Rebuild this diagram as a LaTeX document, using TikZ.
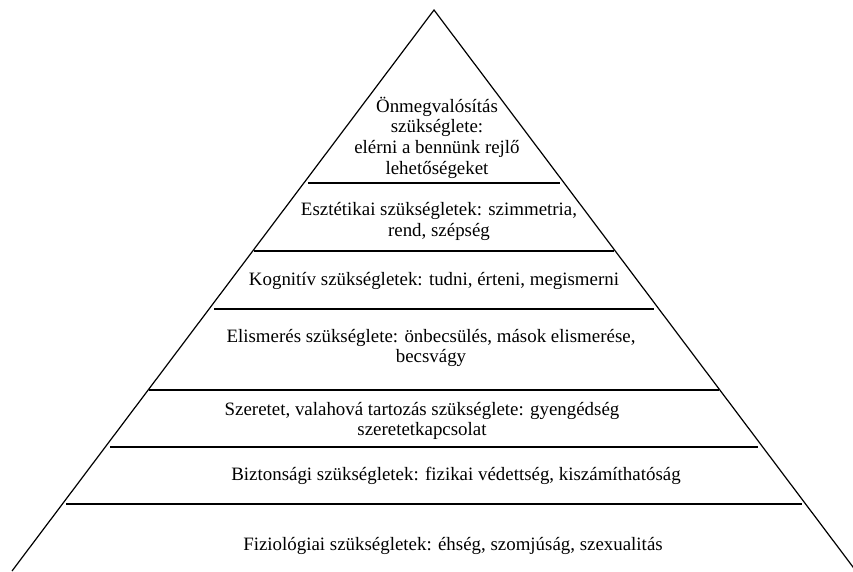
\documentclass[tikz,border=0pt]{standalone}
\usepackage{fontspec}
\setmainfont{Liberation Serif}
\usetikzlibrary{calc}

\begin{document}
\begin{tikzpicture}[x=1pt, y=-1pt]
%
% Piramis: 7 szint, alulról felfelé
%
% Styles
\tikzstyle{edge} = [line width=1.2pt, black]
\tikzstyle{level} = [line width=1.2pt, black]
\tikzstyle{label} = [align=center, inner sep=0pt, font=\fontsize{18.9}{20.6}\selectfont]
\useasboundingbox (0,0) rectangle (853,571);
% Triangle
\coordinate (apex) at (434,10);
\coordinate (bl) at (12,571);
\coordinate (br) at (856,571);
\draw [edge] (bl) -- (apex) -- (br);
% Lines
\foreach \y/\g in {183/4, 251/1, 309/5, 390/1, 447/5, 504/4} {
  \pgfmathsetmacro{\t}{(\y-10)/561}
  \draw [level] ($(apex)!\t!(bl)+(\g,0)$) -- ($(apex)!\t!(br)-(\g,0)$);
}
% Nodes
\node (selfact) [label] at (437,137.5) {Önmegvalósítás\\szükséglete:\\elérni a bennünk rejlő\\lehetőségeket};
\node (aesthetic) [label] at (439,221.5) {Esztétikai szükségletek: szimmetria,\\rend, szépség};
\node (cognitive) [label] at (434,281) {Kognitív szükségletek: tudni, érteni, megismerni};
\node (esteem) [label] at (431,348) {Elismerés szükséglete: önbecsülés, mások elismerése,\\becsvágy};
\node (love) [label] at (422,421) {Szeretet, valahová tartozás szükséglete: gyengédség\\szeretetkapcsolat};
\node (safety) [label] at (456,476) {Biztonsági szükségletek: fizikai védettség, kiszámíthatóság};
\node (physio) [label] at (453,546) {Fiziológiai szükségletek: éhség, szomjúság, szexualitás};
\end{tikzpicture}
\end{document}
